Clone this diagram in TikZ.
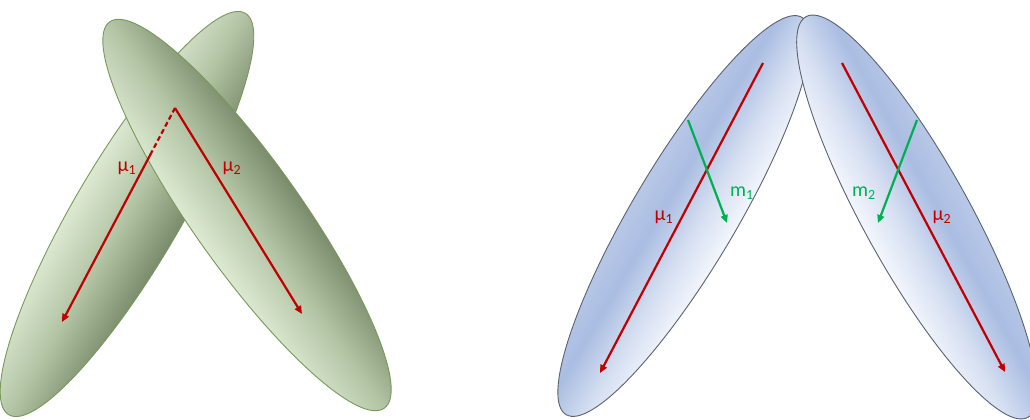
\documentclass[tikz,border=0pt]{standalone}
\usepackage{fontspec}
\setmainfont{Carlito}
\usetikzlibrary{arrows.meta}
\definecolor{gborder}{HTML}{78985A}
\definecolor{bborder}{HTML}{5A6270}
\definecolor{gLight}{HTML}{DDEAD2}
\definecolor{gMid}{HTML}{B3C4A5}
\definecolor{gDark}{HTML}{7A8B6C}
\definecolor{bWhite}{HTML}{F3F6FC}
\definecolor{bBlue}{HTML}{AABDE2}
\definecolor{bEdge}{HTML}{B8C8E7}
\definecolor{muRed}{HTML}{C00000}
\definecolor{mGreen}{HTML}{00B050}
\pgfdeclareverticalshading{greenup}{100bp}{color(0bp)=(gDark); color(25bp)=(gDark); color(50bp)=(gMid); color(75bp)=(gLight); color(100bp)=(gLight)}
\pgfdeclareverticalshading{greendown}{100bp}{color(0bp)=(gLight); color(25bp)=(gLight); color(50bp)=(gMid); color(75bp)=(gDark); color(100bp)=(gDark)}
\pgfdeclareverticalshading{blueell}{100bp}{color(0bp)=(bWhite); color(25bp)=(bWhite); color(42bp)=(bWhite!60!bBlue); color(60bp)=(bBlue); color(75bp)=(bEdge); color(100bp)=(bEdge)}
\tikzset{
  gell/.style={draw=gborder, line width=0.9pt},
  bell/.style={draw=bborder, line width=0.9pt},
  muarrow/.style={draw=muRed, line width=2.2pt, -{Triangle[length=8pt,width=7pt]}},
  mudash/.style={draw=muRed, line width=2.2pt, dash pattern=on 5pt off 3pt},
  marrow/.style={draw=mGreen, line width=2.2pt, -{Triangle[length=8pt,width=7pt]}},
  mulabel/.style={text=muRed, font=\fontsize{20}{24}\selectfont, inner sep=0pt},
  mlabel/.style={text=mGreen, font=\fontsize{20}{24}\selectfont, inner sep=0pt},
}
\begin{document}
\begin{tikzpicture}[x=1pt,y=1pt]
\useasboundingbox (0,0) rectangle (1030,420);
% left pair (green)
\begin{scope}[transform canvas={shift={(127pt,206pt)},rotate=59.5}]
  \shade[gell, shading=greenup] (0,0) ellipse [x radius=233pt, y radius=53pt];
\end{scope}
\begin{scope}[transform canvas={shift={(247pt,205pt)},rotate=-54.6}]
  \shade[gell, shading=greendown] (0,0) ellipse [x radius=237pt, y radius=54pt];
\end{scope}
% right pair (blue)
\begin{scope}[transform canvas={shift={(684pt,204pt)},rotate=59.3}]
  \shade[bell, shading=blueell] (0,0) ellipse [x radius=231pt, y radius=52pt];
\end{scope}
\begin{scope}[transform canvas={shift={(917pt,203pt)},rotate=-61}]
  \shade[bell, shading=blueell] (0,0) ellipse [x radius=229pt, y radius=53pt];
\end{scope}
% left arrows
\coordinate (apex) at (175,312);
\coordinate (cross) at (151.2,267);
\coordinate (mu1end) at (62,98);
\coordinate (mu2end) at (302,106);
\draw[mudash] (apex) -- (cross);
\draw[muarrow] (cross) -- (mu1end);
\draw[muarrow] (apex) -- (mu2end);
\node[mulabel] (lmu1) at (127,252) {μ\textsubscript{1}};
\node[mulabel] (lmu2) at (232,252) {μ\textsubscript{2}};
% right arrows
\coordinate (c1s) at (763,357);
\coordinate (c1e) at (600,47);
\coordinate (g1s) at (688,300);
\coordinate (g1e) at (727,197);
\coordinate (d1s) at (842,357);
\coordinate (d1e) at (1005,48);
\coordinate (g2s) at (917,300);
\coordinate (g2e) at (878,197);
\draw[muarrow] (c1s) -- (c1e);
\draw[marrow] (g1s) -- (g1e);
\draw[muarrow] (d1s) -- (d1e);
\draw[marrow] (g2s) -- (g2e);
\node[mulabel] (rmu1) at (664,203) {μ\textsubscript{1}};
\node[mlabel] (rm1) at (742,227) {m\textsubscript{1}};
\node[mlabel] (rm2) at (864,227) {m\textsubscript{2}};
\node[mulabel] (rmu2) at (942,203) {μ\textsubscript{2}};
\end{tikzpicture}
\end{document}
